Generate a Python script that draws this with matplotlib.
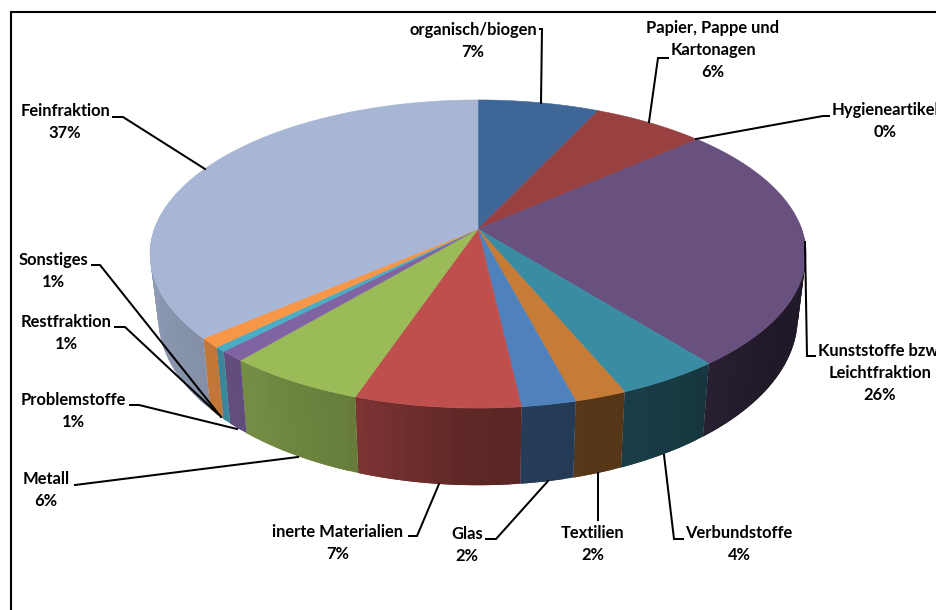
import numpy as np
import matplotlib
matplotlib.use("Agg")
import matplotlib.pyplot as plt
from matplotlib.collections import PolyCollection
from matplotlib.colors import to_rgb

# ---- data ----
categories = ["organisch/biogen", "Papier, Pappe und\nKartonagen", "Hygieneartikel",
              "Kunststoffe bzw.\nLeichtfraktion", "Verbundstoffe", "Textilien", "Glas",
              "inerte Materialien", "Metall", "Problemstoffe", "Restfraktion",
              "Sonstiges", "Feinfraktion"]
percent_labels = ["7%", "6%", "0%", "26%", "4%", "2%", "2%", "7%", "6%", "1%", "1%", "1%", "37%"]
slice_values = [7.0, 6.5, 0.0, 25.8, 4.4, 2.2, 2.3, 7.0, 5.9, 1.1, 0.5, 1.0, 36.3]
slice_colors = ["#3E6797", "#984140", "#7B9A47", "#68507F", "#3A8CA3", "#C67C37", "#4F81BD",
                "#BE4F4D", "#9BBB59", "#8064A2", "#4BACC6", "#F79646", "#A8B6D5"]

# ---- label layout (pixel centre of the text block) ----
label_pos = [(473, 41), (713, 50), (885, 121), (880, 373), (739, 544), (593, 544), (467, 545),
             (338, 543), (46, 490), (73, 411), (66, 333), (53, 271), (65, 122)]
leaders = [
    [(540, 29), (542, 29), (541, 103)],
    [(668, 58), (658, 58), (649, 122)],
    [(829, 116), (823, 116), (696, 139)],
    [(805, 242), (807, 356), (815, 356)],
    [(683, 539), (674, 539), (664, 455)],
    [(598, 473), (598, 520)],
    [(486, 539), (496, 539), (548, 481)],
    [(409, 536), (417, 536), (439, 484)],
    [(75, 485), (298, 457)],
    [(130, 405), (139, 405), (237, 429)],
    [(115, 327), (125, 327), (218, 414)],
    [(92, 265), (100, 265), (221, 417)],
    [(113, 117), (123, 117), (205, 169)],
]

# ---- projection of the disc ----
CX, CY, RX, RY, K = 478.0, 229.0, 323.6, 150.0, 0.1624
S_X, S_Y, DY = 0.975, 1.09, 61.0


def project(theta, bottom=False):
    X, Y = np.sin(theta), -np.cos(theta)
    w = 1 - K * Y
    if bottom:
        return CX + S_X * RX * X / w, CY + DY + S_Y * RY * Y / w
    return CX + RX * X / w, CY + RY * Y / w


def shade(theta_deg):
    return np.interp(theta_deg, [90, 125, 150, 170, 182, 200, 225, 270],
                     [0.29, 0.32, 0.42, 0.46, 0.50, 0.67, 0.78, 0.86])


fig = plt.figure(figsize=(9.36, 6.10), dpi=100, facecolor="white")
ax = fig.add_axes([0, 0, 1, 1])
ax.set_xlim(0, 936)
ax.set_ylim(610, 0)
ax.axis("off")

edges = np.concatenate([[0], np.cumsum(slice_values)]) / np.sum(slice_values) * 2 * np.pi

# side wall: quads overlap the next one so no seams show
side_polys, side_cols = [], []
for start, stop, col in zip(edges[:-1], edges[1:], slice_colors):
    if stop <= start:
        continue
    n = max(2, int(np.degrees(stop - start) / 1.5) + 1)
    t = np.linspace(start, stop, n + 1)
    step = t[1] - t[0]
    base = np.array(to_rgb(col))
    for a, b in zip(t[:-1], t[1:]):
        if not (np.pi / 2 - 0.05 <= a <= 3 * np.pi / 2 + 0.05):
            continue
        arc = np.linspace(a, min(b + step, stop), 4)
        xt, yt = project(arc)
        xb, yb = project(arc[::-1], True)
        side_polys.append(list(zip(xt, yt)) + list(zip(xb, yb)))
        side_cols.append(base * shade(np.degrees((a + b) / 2)))
ax.add_collection(PolyCollection(side_polys, facecolors=side_cols, edgecolors="none", zorder=2))

# top face
top_polys, top_cols = [], []
for start, stop, col in zip(edges[:-1], edges[1:], slice_colors):
    if stop <= start:
        continue
    t = np.linspace(start, stop, max(3, int(np.degrees(stop - start) * 2)))
    x, y = project(t)
    top_polys.append([(CX, CY)] + list(zip(x, y)))
    top_cols.append(col)
ax.add_collection(PolyCollection(top_polys, facecolors=top_cols, edgecolors=top_cols,
                                 linewidths=0.4, zorder=3))

# leader lines
for pts in leaders:
    xs, ys = zip(*pts)
    ax.plot(xs, ys, color="black", lw=1.45, solid_joinstyle="miter", zorder=4)

# labels
for name, pct, (tx, ty) in zip(categories, percent_labels, label_pos):
    ax.text(tx, ty, f"{name}\n{pct}", ha="center", va="center", ma="center",
            family="Lato", weight="bold", fontsize=11.9, color="black",
            linespacing=1.47, zorder=5, clip_on=True)

# chart border, cut off by the image on the right and at the bottom
ax.plot([10.5, 10.5, 940], [615, 11.5, 11.5], color="black", lw=1.5, zorder=6,
        solid_joinstyle="miter")

fig.savefig("out.png", dpi=100, facecolor="white")
